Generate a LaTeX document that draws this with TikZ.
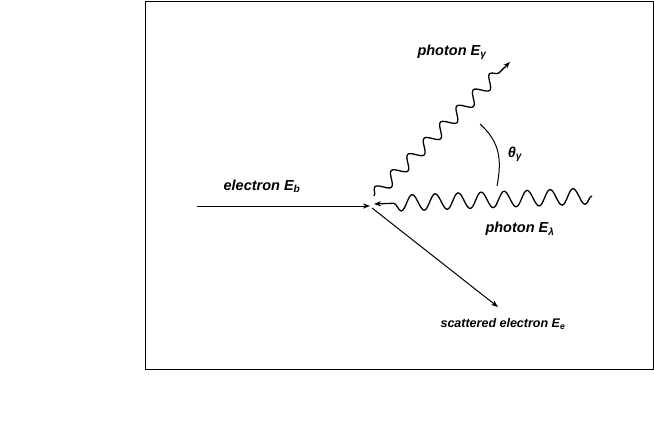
\documentclass[tikz,border=0pt]{standalone}
\usepackage{fontspec}
\setmainfont{Liberation Sans}
\usetikzlibrary{arrows.meta, decorations.pathmorphing}

\begin{document}
\begin{tikzpicture}[x=1pt, y=-1pt,
lbl/.style={font=\bfseries\itshape\fontsize{14.5}{16}\selectfont, inner sep=1pt},
arrow/.style={-{Stealth[length=7pt]}, line width=1pt},
wave/.style={decorate, decoration={snake, amplitude=#1, segment length=23pt, post length=12pt}, -{Stealth[length=7pt]}, line width=1.3pt}
]
\useasboundingbox (0,0) rectangle (654,436);
\draw[thin] (145,1) rectangle (653,369);

\coordinate (in) at (197,206);
\coordinate (v) at (370,206);
\coordinate (gsrc) at (592,196);
\coordinate (gout) at (510,62);
\coordinate (eout) at (498,307);

\draw[arrow] (in) -- (v);
\draw[wave=8pt] (gsrc) -- (374,204);
\draw[wave=6pt] (374,196) -- (gout);
\draw[arrow] (372,208) -- (eout);
\draw[line width=1pt] (480,124) .. controls (500,142) and (502,160) .. (497,186);

\node[lbl] (le) at (262,186) {electron E\textsubscript{b}};
\node[lbl] (lg) at (452,52) {photon E\textsubscript{γ}};
\node[lbl] (lt) at (515,154) {θ\textsubscript{γ}};
\node[lbl] (ll) at (520,229) {photon E\textsubscript{λ}};
\node[lbl, font=\bfseries\itshape\fontsize{12.5}{14}\selectfont] (ls) at (503,324) {scattered electron E\textsubscript{e}};
\end{tikzpicture}
\end{document}
